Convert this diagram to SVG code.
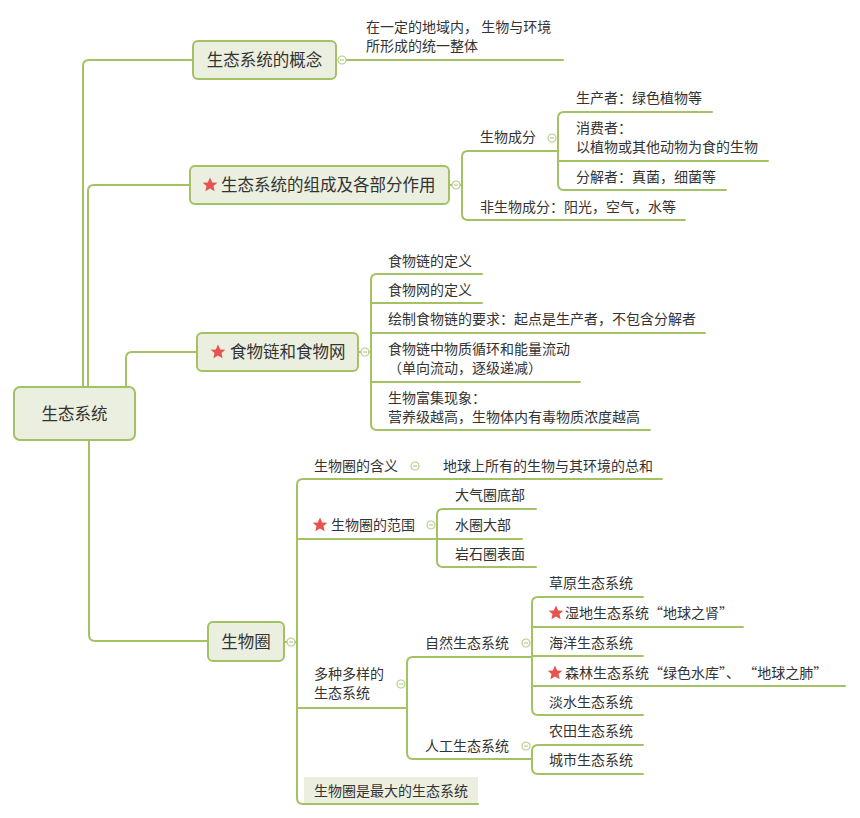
<svg xmlns="http://www.w3.org/2000/svg" width="860" height="818" viewBox="0 0 860 818">
<defs>
<style>
.ln{fill:none;stroke:#a2c264;stroke-width:2;stroke-linecap:round}
.box{fill:#ebefdf;stroke:#a2c264;stroke-width:2}
.t{font-family:"Noto Sans CJK SC","Liberation Sans",sans-serif;fill:#333;font-size:14px}
.tb{font-family:"Noto Sans CJK SC","Liberation Sans",sans-serif;fill:#333;font-size:16.5px}
.cl{fill:#fff;stroke:#b6d08a;stroke-width:1.2}
.mn{stroke:#b6d08a;stroke-width:1.2}
.star{fill:#e8524f}
</style>
<path id="star" d="M0,-7.5 L2.2,-2.6 L7.4,-2.3 L3.5,1.1 L4.6,6.3 L0,3.6 L-4.6,6.3 L-3.5,1.1 L-7.4,-2.3 L-2.2,-2.6 Z"/>
<g id="coll"><circle r="4" class="cl"/><line x1="-2" y1="0" x2="2" y2="0" class="mn"/></g>
</defs>
<rect width="860" height="818" fill="#fff"/>
<g id="connectors">
<path class="ln" d="M83,387 V66 Q83,60 89,60 H193"/>
<path class="ln" d="M88,387 V191 Q88,185 94,185 H190"/>
<path class="ln" d="M126,387 V358 Q126,352 132,352 H197"/>
<path class="ln" d="M89,440 V635 Q89,641 95,641 H208"/>
<path class="ln" d="M346,60 H563"/>
<path class="ln" d="M449,185 H452 M460,185 H462"/>
<path class="ln" d="M558,151 H468 Q462,151 462,157 V214 Q462,220 468,220 H685"/>
<path class="ln" d="M712,112 H564 Q558,112 558,118 V184 Q558,190 564,190 H726 M558,161 H768"/>
<path class="ln" d="M358,352 H361 M369,352 H371"/>
<path class="ln" d="M482,274 H377 Q371,274 371,280 V424 Q371,430 377,430 H650 M371,303 H482 M371,333 H705 M371,382 H580"/>
<path class="ln" d="M284,642 H287 M295,642 H297"/>
<path class="ln" d="M662,479 H303 Q297,479 297,485 V798 Q297,804 303,804 H478 M297,539 H437 M297,708 H407"/>
<path class="ln" d="M536,509 H443 Q437,509 437,515 V561 Q437,567 443,567 H536 M437,539 H522"/>
<path class="ln" d="M532,657 H413 Q407,657 407,663 V753 Q407,759 413,759 H532"/>
<path class="ln" d="M643,597 H538 Q532,597 532,603 V709 Q532,715 538,715 H643 M532,627 H743 M532,656 H643 M532,686 H845"/>
<path class="ln" d="M643,745 H538 Q532,745 532,751 V768 Q532,774 538,774 H643"/>
<use href="#coll" x="342" y="60"/>
<use href="#coll" x="456" y="185"/>
<use href="#coll" x="552" y="138"/>
<use href="#coll" x="365" y="352"/>
<use href="#coll" x="291" y="642"/>
<use href="#coll" x="415" y="466"/>
<use href="#coll" x="431" y="525"/>
<use href="#coll" x="401" y="684"/>
<use href="#coll" x="526" y="643"/>
<use href="#coll" x="526" y="746"/>
</g>
<g id="root">
<rect class="box" x="14" y="387" width="121" height="53" rx="6"/>
<text class="tb" x="74.5" y="419.5" text-anchor="middle">生态系统</text>
</g>
<g id="n-concept">
<rect class="box" x="193" y="41" width="143" height="38" rx="5"/>
<text class="tb" x="264.5" y="66" text-anchor="middle">生态系统的概念</text>
</g>
<g id="n-concept-def">
<text class="t" x="366" y="32">在一定的地域内， 生物与环境</text>
<text class="t" x="366" y="51">所形成的统一整体</text>
</g>
<g id="n-compose">
<rect class="box" x="190" y="166" width="259" height="38" rx="5"/>
<use href="#star" class="star" x="210" y="185"/>
<text class="tb" x="221" y="191">生态系统的组成及各部分作用</text>
</g>
<g id="n-bio"><text class="t" x="480" y="142">生物成分</text></g>
<g id="n-producer"><text class="t" x="576" y="103">生产者：绿色植物等</text></g>
<g id="n-consumer"><text class="t" x="576" y="133">消费者：</text><text class="t" x="576" y="152">以植物或其他动物为食的生物</text></g>
<g id="n-decomp"><text class="t" x="576" y="182">分解者：真菌，细菌等</text></g>
<g id="n-abio"><text class="t" x="480" y="212">非生物成分：阳光，空气，水等</text></g>
<g id="n-food">
<rect class="box" x="197" y="333" width="161" height="38" rx="5"/>
<use href="#star" class="star" x="218" y="352"/>
<text class="tb" x="230" y="358">食物链和食物网</text>
</g>
<g id="n-f1"><text class="t" x="388" y="266">食物链的定义</text></g>
<g id="n-f2"><text class="t" x="388" y="295">食物网的定义</text></g>
<g id="n-f3"><text class="t" x="388" y="324">绘制食物链的要求：起点是生产者，不包含分解者</text></g>
<g id="n-f4"><text class="t" x="388" y="354">食物链中物质循环和能量流动</text><text class="t" x="388" y="373">（单向流动，逐级递减）</text></g>
<g id="n-f5"><text class="t" x="388" y="403">生物富集现象：</text><text class="t" x="388" y="422">营养级越高，生物体内有毒物质浓度越高</text></g>
<g id="n-bios">
<rect class="box" x="208" y="622" width="76" height="39" rx="5"/>
<text class="tb" x="246" y="647.5" text-anchor="middle">生物圈</text>
</g>
<g id="n-b1"><text class="t" x="314" y="471">生物圈的含义</text></g>
<g id="n-b1d"><text class="t" x="443" y="471">地球上所有的生物与其环境的总和</text></g>
<g id="n-b2"><use href="#star" class="star" x="320" y="525"/><text class="t" x="331" y="530">生物圈的范围</text></g>
<g id="n-b2a"><text class="t" x="455" y="500">大气圈底部</text></g>
<g id="n-b2b"><text class="t" x="455" y="530">水圈大部</text></g>
<g id="n-b2c"><text class="t" x="455" y="559">岩石圈表面</text></g>
<g id="n-b3"><text class="t" x="314" y="679">多种多样的</text><text class="t" x="314" y="698">生态系统</text></g>
<g id="n-nat"><text class="t" x="425" y="648">自然生态系统</text></g>
<g id="n-n1"><text class="t" x="549" y="588">草原生态系统</text></g>
<g id="n-n2"><use href="#star" class="star" x="556" y="613"/><text class="t" x="565" y="618">湿地生态系统“地球之肾”</text></g>
<g id="n-n3"><text class="t" x="549" y="648">海洋生态系统</text></g>
<g id="n-n4"><use href="#star" class="star" x="555" y="673"/><text class="t" x="565" y="678">森林生态系统“绿色水库”、 “地球之肺”</text></g>
<g id="n-n5"><text class="t" x="549" y="707">淡水生态系统</text></g>
<g id="n-art"><text class="t" x="425" y="751">人工生态系统</text></g>
<g id="n-a1"><text class="t" x="549" y="736">农田生态系统</text></g>
<g id="n-a2"><text class="t" x="549" y="765">城市生态系统</text></g>
<g id="n-b4">
<rect x="304" y="777" width="174" height="26" fill="#ecefe0"/>
<text class="t" x="314" y="796">生物圈是最大的生态系统</text>
</g>
</svg>
